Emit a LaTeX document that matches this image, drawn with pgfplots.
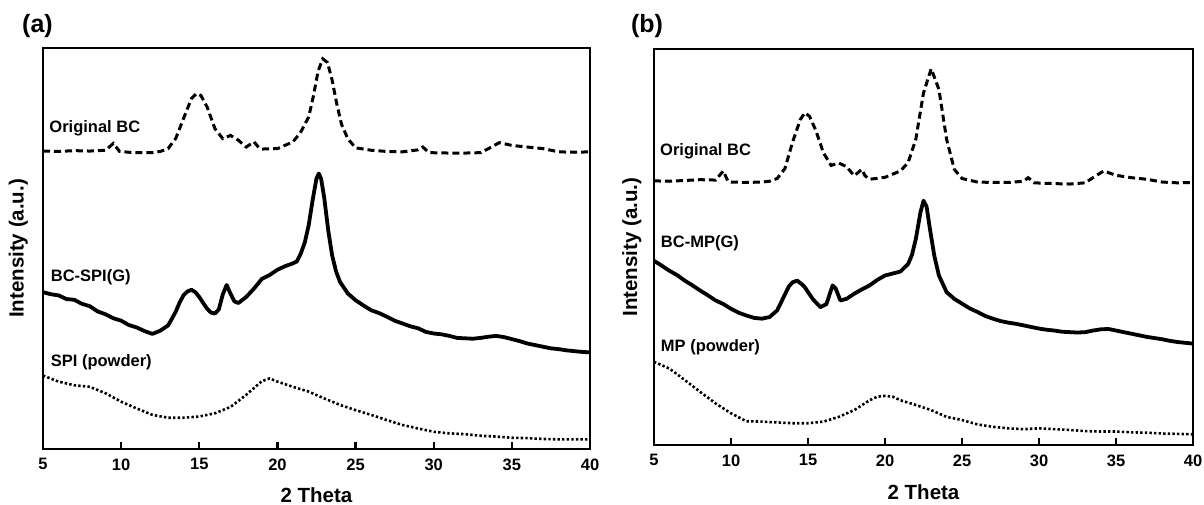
\documentclass[border=0pt]{standalone}
\usepackage{fontspec}
\setmainfont{Liberation Sans}
\usepackage{pgfplots}
\pgfplotsset{compat=1.18}

\pgfplotsset{
  xrdpanel/.style={
    scale only axis,
    xmin=5, xmax=40, ymin=0, ymax=100,
    xtick={5,10,...,40},
    ytick=\empty,
    xtick pos=bottom,
    tick align=inside,
    major tick length=7pt,
    tick style={line width=2.4pt, black},
    axis line style={line width=2.8pt},
    /pgf/number format/assume math mode=true,
    tick label style={font=\fontsize{16.5}{16.5}\selectfont\bfseries},
    xticklabel style={yshift=-6pt},
    label style={font=\fontsize{20.5}{21}\selectfont\bfseries},
    xlabel={2 Theta},
    ylabel={Intensity (a.u.)},
  },
  bc/.style={black, line width=3pt, dash pattern=on 7pt off 4pt},
  comp/.style={black, line width=3.8pt, line join=round},
  powder/.style={black, line width=2.6pt, dash pattern=on 2.4pt off 2.2pt},
}
\tikzset{curvelabel/.style={anchor=base west, inner sep=0pt, font=\fontsize{16.5}{17}\selectfont\bfseries}}

\begin{document}
\begin{tikzpicture}
\useasboundingbox (0,0) rectangle (1204pt,505pt);

% ---- (a) BC / SPI ----
\begin{axis}[xrdpanel,
    at={(43pt,56pt)}, anchor=south west,
    width=547pt, height=401pt,
    xlabel style={at={(axis description cs:0.5,0)}, anchor=center, yshift=-46pt},
    ylabel style={at={(axis description cs:-0.045,0.5)}, anchor=center},
]
% original BC
\addplot[bc] coordinates {
(5,74.3)(6,74.2)(7,74.4)(8,74.3)(9,74.5)(9.5,76.2)(9.9,74.2)(10.5,74.0)(11,73.9)(12,73.9)
(12.5,74.2)(13,74.9)(13.5,77.5)(14,82.5)(14.5,87.4)(14.8,88.6)(15.1,88.2)(15.5,85.3)(16,79.9)
(16.5,77.4)(17,78.2)(17.5,77.0)(18,75.3)(18.5,76.6)(18.8,75.2)(19,74.8)(20,74.9)(21,76.6)
(21.5,79.1)(22,82.8)(22.3,88.0)(22.6,94.2)(22.9,97.3)(23.2,96.4)(23.5,92.0)(23.8,86.0)
(24.1,81.0)(24.5,77.4)(25,75.1)(26,74.5)(27,74.2)(28,74.1)(29,74.6)(29.3,75.3)(29.7,73.9)
(31,73.8)(32,73.8)(33,73.9)(33.5,74.9)(34.2,76.4)(35,75.7)(36,75.3)(37,74.9)(38,74.1)(39,74.0)(40,74.1)
};
% BC-SPI(G)
\addplot[comp] coordinates {
(5,39.1)(5.5,38.6)(6,38.3)(6.5,37.4)(7,37.2)(7.5,36.2)(8,35.6)(8.5,34.3)(9,33.6)(9.5,32.6)
(10,32.0)(10.5,30.9)(11,30.3)(11.5,29.4)(12,28.7)(12.5,29.5)(13,30.8)(13.25,32.5)(13.5,34.3)
(13.75,36.6)(14,38.4)(14.25,39.3)(14.5,39.7)(14.75,39.1)(15,37.9)(15.25,36.4)(15.5,35.0)
(15.75,34.0)(16,33.8)(16.25,34.8)(16.5,38.5)(16.75,40.9)(17,38.7)(17.25,36.8)(17.5,36.4)
(18,37.9)(18.5,40.0)(19,42.4)(19.5,43.4)(20,44.7)(20.5,45.6)(21,46.3)(21.25,46.8)(21.5,48.8)
(21.75,51.5)(22,55.8)(22.25,62.0)(22.5,67.5)(22.65,68.7)(22.8,67.3)(23,62.5)(23.25,54.5)
(23.5,48.3)(23.75,44.3)(24,41.7)(24.5,38.8)(25,37.1)(25.5,35.8)(26,34.6)(26.5,33.9)(27,33.0)
(27.5,32.0)(28,31.3)(28.5,30.6)(29,30.1)(29.5,29.2)(30,28.8)(30.5,28.6)(31,28.2)(31.5,27.7)
(32,27.6)(32.5,27.5)(33,27.7)(33.5,28.0)(34,28.2)(34.5,27.9)(35,27.4)(35.5,26.9)(36,26.3)
(36.5,25.9)(37,25.5)(37.5,25.1)(38,24.9)(38.5,24.6)(39,24.4)(39.5,24.2)(40,24.1)
};
% SPI (powder)
\addplot[powder] coordinates {
(5,18.3)(6,16.8)(7,15.9)(8,15.5)(9,13.9)(10,11.8)(11,10.1)(12,8.5)(13,7.8)(14,7.8)(15,8.1)
(16,8.9)(17,10.5)(18,13.5)(19,16.9)(19.5,17.6)(20,16.8)(21,15.5)(22,14.3)(23,12.6)(24,11.0)
(25,9.7)(26,8.5)(27,7.2)(28,6.0)(29,5.1)(30,4.3)(31,3.9)(32,3.7)(33,3.3)(34,3.1)(35,2.8)
(36,2.7)(37,2.5)(38,2.4)(39,2.4)(40,2.4)
};
\node[curvelabel] at (axis cs:5.4,78.9) {Original BC};
\node[curvelabel] at (axis cs:5.49,41.7) {BC-SPI(G)};
\node[curvelabel] at (axis cs:5.49,20.5) {SPI (powder)};
\end{axis}

% ---- (b) BC / MP ----
\begin{axis}[xrdpanel,
    at={(654pt,60pt)}, anchor=south west,
    width=539pt, height=396pt,
    xlabel style={at={(axis description cs:0.5,0)}, anchor=center, yshift=-47pt},
    ylabel style={at={(axis description cs:-0.041,0.5)}, anchor=center},
]
% original BC
\addplot[bc] coordinates {
(5,66.7)(6,66.6)(7,66.8)(8,67.0)(9,66.9)(9.5,69.2)(9.8,66.6)(10,66.4)(11,66.3)(12,66.4)
(12.5,66.6)(13,67.3)(13.5,69.8)(14,76.5)(14.5,82.2)(14.8,83.9)(15.1,83.0)(15.5,79.5)(16,73.8)
(16.5,70.6)(17,71.2)(17.5,70.3)(18,68.0)(18.5,69.6)(18.7,68.0)(19,67.1)(20,67.6)(21,69.2)
(21.5,71.3)(22,77.2)(22.5,88.9)(23,95.0)(23.5,89.8)(24,77.2)(24.5,69.6)(25,67.3)(26,66.4)
(27,66.3)(28,66.3)(29,66.6)(29.3,67.5)(29.7,66.2)(31,66.0)(32,65.9)(33,66.2)(33.5,67.5)
(34.2,69.2)(35,68.1)(36,67.5)(37,67.1)(38,66.4)(39,66.2)(40,66.3)
};
% BC-MP(G)
\addplot[comp] coordinates {
(5,46.5)(5.5,45.3)(6,44.0)(6.5,42.9)(7,41.5)(7.5,40.3)(8,39.0)(8.5,37.8)(9,36.5)(9.5,35.6)
(10,34.4)(10.5,33.4)(11,32.7)(11.5,32.1)(12,31.9)(12.5,32.3)(13,34.0)(13.5,38.0)(13.75,40.0)
(14,41.1)(14.3,41.5)(14.6,40.6)(14.8,39.8)(15.3,36.9)(15.8,34.8)(16.2,35.6)(16.45,38.6)
(16.6,40.3)(16.8,39.5)(17.1,36.5)(17.5,36.9)(18,38.2)(18.5,39.3)(19,40.3)(19.5,41.7)(20,42.8)
(20.5,43.3)(21,43.8)(21.5,45.7)(21.75,48.0)(22,52.0)(22.3,58.7)(22.5,61.7)(22.7,60.2)
(22.9,55.0)(23.2,47.8)(23.5,42.8)(24,38.6)(24.5,36.9)(25,35.7)(25.5,34.5)(26,33.6)(26.5,32.6)
(27,31.9)(27.5,31.3)(28,30.9)(28.5,30.6)(29,30.2)(29.5,29.8)(30,29.4)(30.5,29.1)(31,28.9)
(31.5,28.6)(32,28.5)(32.5,28.4)(33,28.5)(33.5,28.9)(34,29.2)(34.5,29.3)(35,28.9)(35.5,28.5)
(36,28.1)(36.5,27.7)(37,27.3)(37.5,27.0)(38,26.7)(38.5,26.3)(39,26.0)(39.5,25.8)(40,25.6)
};
% MP (powder)
\addplot[powder] coordinates {
(5,21.0)(6,19.3)(7,16.4)(8,13.4)(9,10.5)(10,8.0)(11,6.0)(12,5.9)(13,5.7)(14,5.5)(15,5.5)
(16,5.9)(17,7.1)(18,8.8)(19,11.3)(19.5,12.2)(20,12.4)(20.5,12.2)(21,11.3)(22,10.1)(23,8.8)
(24,7.1)(25,6.3)(26,5.2)(27,4.6)(28,4.2)(29,4.0)(30,4.2)(31,4.0)(32,3.8)(33,3.5)(34,3.4)
(35,3.4)(36,3.2)(37,3.1)(38,2.9)(39,2.8)(40,2.7)
};
\node[curvelabel] at (axis cs:5.39,73.2) {Original BC};
\node[curvelabel] at (axis cs:5.44,49.9) {BC-MP(G)};
\node[curvelabel] at (axis cs:5.44,23.6) {MP (powder)};
\end{axis}

% panel letters
\node[font=\fontsize{25}{25}\selectfont\bfseries] at (37.5pt,479pt) {(a)};
\node[font=\fontsize{25}{25}\selectfont\bfseries] at (647pt,479pt) {(b)};
\end{tikzpicture}
\end{document}
